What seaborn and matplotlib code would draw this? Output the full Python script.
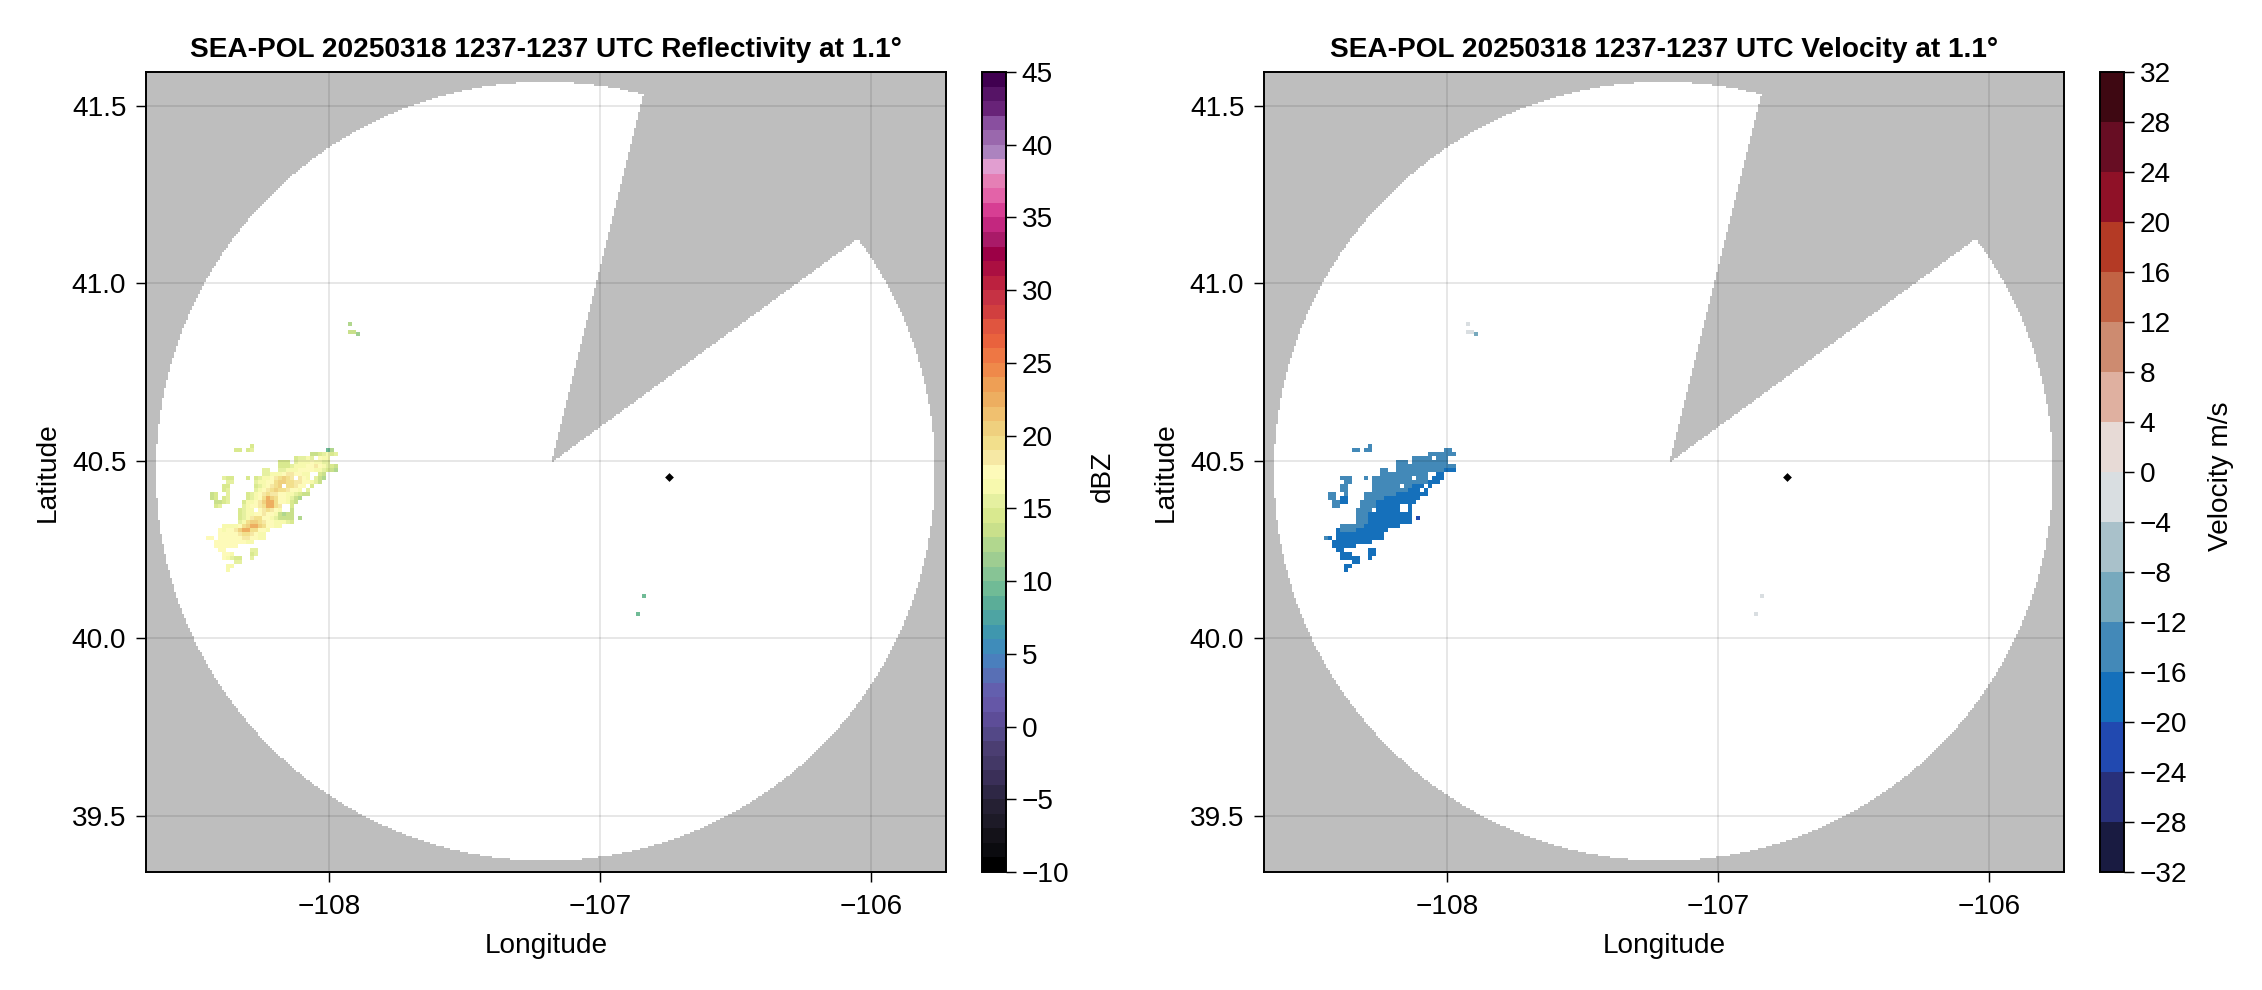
import numpy as np
import pandas as pd
import seaborn as sns
import matplotlib.pyplot as plt
from matplotlib.colors import ListedColormap

sns.set_theme(style='ticks')
plt.rcParams['font.family'] = ['Liberation Sans', 'DejaVu Sans']
plt.rcParams['axes.unicode_minus'] = True

# map extent and radar coverage
LON_LIM = (-108.675, -105.723)
LAT_LIM = (39.341, 41.595)
RANGE_CENTER = (-107.201, 40.47)
RANGE_RADII = (1.437, 1.097)
WEDGE_APEX = (-107.18, 40.494)
WEDGE_EDGE_A = (-106.84, 41.528)
WEDGE_EDGE_B = (-106.059, 41.119)
RADAR_SITE = (-106.744, 40.453)

LON_TICKS = [-108, -107, -106]
LAT_TICKS = [39.5, 40.0, 40.5, 41.0, 41.5]
DBZ_TICKS = list(range(-10, 50, 5))
VEL_TICKS = list(range(-32, 36, 4))

# 1 dBZ bands, -10 up to 44
DBZ_COLORS = [
    '#000000', '#0b0b0f', '#141219', '#1d1a27', '#252033', '#2e2745', '#3a2f58', '#433866',
    '#4b3e72', '#534887', '#5d4d98', '#6557a7', '#635fae', '#586fb5', '#4a7fbd', '#3f8cba',
    '#3f97ae', '#4ea4a3', '#5bad98', '#70bb96', '#87c495', '#9ecd91', '#b1d78e', '#c9e08b',
    '#d9e98f', '#e5f0a0', '#f7f9ae', '#fdfab9', '#f6e8a4', '#f2df8c', '#efd07e', '#f0c06f',
    '#edae60', '#ee9f55', '#ef894a', '#ee7744', '#e9623d', '#e0553f', '#d13f3f', '#c63244',
    '#bc213f', '#ab0f41', '#9c0046', '#a91a68', '#c3277f', '#d73e93', '#e363a8', '#e57fb5',
    '#e19ed0', '#ac83bf', '#9a68ad', '#894f9f', '#682378', '#561466', '#400050',
]
# 4 m/s bands, -32 up to 28
VEL_COLORS = [
    '#191b41', '#28307a', '#2149b0', '#1570bb', '#4389b8', '#77a9bd', '#a9c1ca', '#d9dee1',
    '#e7dad6', '#dfb0a0', '#cd8b70', '#c26344', '#b43a25', '#8f1127', '#670d23', '#3e0812',
]

# echo patch, top left corner and cell size in degrees
ECHO_ORIGIN = (-108.454, 40.547)
ECHO_CELL = (0.01476, 0.01127)

# one character per cell, base 36 digit = dBZ
DBZ_ROWS = [
    "...........e",
    ".......ee.ef..................9c",
    "..........................ddefgef",
    "......................effgf.hgg",
    "..................eee.fggghggff",
    "..................eeefggghhjhgfed",
    "..............ff..ffgggiihhggfedc",
    "..............ffgggijjihgg..ed",
    "....fee...e.efgghjklkj.jhg.fdc",
    ".....ff.....fgghikllkkjjihgfd",
    "....ee......efghjkl.kkjih.e",
    "....ef......fghjklkkjihg.f",
    ".de..f....efghjkjjihggfedd",
    ".de.ef....efghkmlkihgfdc",
    "..ddef...egghjlmmkihged",
    "..ef.....fghhjkmmkj..e",
    "........efgg.hjkjig..d",
    "........efgghijihgdcdd",
    "........efgjkkihgfdddd.c",
    "........fgkllkjihgggfe",
    "....gggghklmmlkihgg",
    "...hghhjlmmkkihg",
    "...hhhhijkkjhgg",
    "hi.hhhhiijjihgg",
    "..hhhhhhhhgg",
    "..hhhhhh",
    "...hh......ff",
    "....hhg....ef",
    "....hgfee..f",
    ".......ff",
    ".....gg",
    ".....g",
]
# a, b, c are the three velocity bands seen in the echo
VEL_CODES = {'a': -14, 'b': -18, 'c': -22}
VEL_ROWS = [
    "...........a",
    ".......aa.aa..................aa",
    "..........................aaaaaaa",
    "......................aaaaa.aaa",
    "..................aaa.aaaaaaaaa",
    "..................aaaaaaaaaaaaaaa",
    "..............aa..aaaaaaaaaaaabbb",
    "..............aaaaaaaaaaaa..bb",
    "....aaa...a.aaaaaaaaaa.aaa.bbb",
    ".....aa.....aaaaaaaaaaaaaabbb",
    "....aa......aaaaaaa.aabbb.b",
    "....aa......aaaaaaaaabbb.b",
    ".aa..a....aaaaaaaabbbbbbbb",
    ".aa.bb....aaaaabbbbbbbbb",
    "..aabb...aaaabbbbbbbbbb",
    "..aa.....aaaabbbbbb..b",
    "........aaaa.bbbbbb..b",
    "........aaabbbbbbbbbbb",
    "........aaabbbbbbbbbbb.c",
    "........aaabbbbbbbbbbb",
    "....aaaaaabbbbbbbbb",
    "...baaaabbbbbbbb",
    "...bbbbbbbbbbbb",
    "ab.bbbbbbbbbbbb",
    "..bbbbbbbbbb",
    "..bbbbbb",
    "...bb......bb",
    "....bbb....bb",
    "....bbbbb..b",
    ".......bb",
    ".....bb",
    ".....b",
]

# isolated specks away from the main echo
SPECK_LON = [-107.923, -107.926, -107.911, -107.900, -106.841, -106.863]
SPECK_LAT = [40.885, 40.868, 40.865, 40.857, 40.119, 40.068]
SPECK_DBZ = [12, 13, 13, 11, 9, 9]
SPECK_VEL = [-2, -2, -2, -10, -3, -3]

GRID_N = 400
W, H = 2262, 990
FONT_SIZE = 20.2


def lon_to_col(lon):
    return (lon - LON_LIM[0]) / (LON_LIM[1] - LON_LIM[0]) * GRID_N


def lat_to_row(lat):
    return (LAT_LIM[1] - lat) / (LAT_LIM[1] - LAT_LIM[0]) * GRID_N


def cross(p, q, lon, lat):
    return (q[0] - p[0]) * (lat - p[1]) - (q[1] - p[1]) * (lon - p[0])


def coverage_mask():
    # True where the radar does not see: outside range or in the blocked sector
    col_lon = np.linspace(*LON_LIM, GRID_N, endpoint=False) + (LON_LIM[1] - LON_LIM[0]) / GRID_N / 2
    row_lat = np.linspace(LAT_LIM[1], LAT_LIM[0], GRID_N, endpoint=False) - (LAT_LIM[1] - LAT_LIM[0]) / GRID_N / 2
    lon, lat = np.meshgrid(col_lon, row_lat)
    out = ((lon - RANGE_CENTER[0]) / RANGE_RADII[0]) ** 2 + ((lat - RANGE_CENTER[1]) / RANGE_RADII[1]) ** 2 > 1
    wedge = (cross(WEDGE_APEX, WEDGE_EDGE_A, lon, lat) <= 0) & (cross(WEDGE_APEX, WEDGE_EDGE_B, lon, lat) >= 0)
    return out | wedge


def echo_grid(rows, decode, speck_values):
    grid = np.full((GRID_N, GRID_N), np.nan)
    col0 = lon_to_col(ECHO_ORIGIN[0])
    row0 = lat_to_row(ECHO_ORIGIN[1])
    dc = ECHO_CELL[0] / (LON_LIM[1] - LON_LIM[0]) * GRID_N
    dr = ECHO_CELL[1] / (LAT_LIM[1] - LAT_LIM[0]) * GRID_N
    for r, line in enumerate(rows):
        for c, ch in enumerate(line):
            if ch == '.':
                continue
            i0, j0 = int(round(row0 + r * dr)), int(round(col0 + c * dc))
            i1, j1 = int(round(row0 + (r + 1) * dr)), int(round(col0 + (c + 1) * dc))
            grid[i0:i1, j0:j1] = decode(ch)
    for lon, lat, v in zip(SPECK_LON, SPECK_LAT, speck_values):
        i, j = int(lat_to_row(lat)), int(lon_to_col(lon))
        grid[i:i + 2, j:j + 2] = v
    return pd.DataFrame(grid)


def radar_panel(ax, cax, echo, colors, vmin, vmax, ticks, title, cbar_label, label_x):
    blocked = pd.DataFrame(coverage_mask().astype(float))
    sns.heatmap(blocked, mask=blocked == 0, cmap=ListedColormap(['#bebebe']), vmin=0, vmax=1, cbar=False,
                xticklabels=False, yticklabels=False, ax=ax)
    sns.heatmap(echo, cmap=ListedColormap(colors), vmin=vmin, vmax=vmax, cbar_ax=cax,
                cbar_kws={'ticks': ticks}, xticklabels=False, yticklabels=False, ax=ax)
    sns.scatterplot(x=[lon_to_col(RADAR_SITE[0])], y=[lat_to_row(RADAR_SITE[1])], marker='D', s=20,
                    color='black', linewidth=0, legend=False, ax=ax)

    ax.set_xlim(0, GRID_N)
    ax.set_ylim(GRID_N, 0)
    ax.set_xticks([lon_to_col(v) for v in LON_TICKS])
    ax.set_xticklabels([f'\u2212{abs(v)}' for v in LON_TICKS])
    ax.set_yticks([lat_to_row(v) for v in LAT_TICKS])
    ax.set_yticklabels([f'{v:.1f}' for v in LAT_TICKS], rotation=0)
    ax.set_axisbelow(False)
    ax.grid(True, color='black', alpha=0.12, linewidth=1.1)
    ax.tick_params(axis='x', length=7.2, width=1.05, labelsize=FONT_SIZE, pad=9, color='black', labelcolor='black')
    ax.tick_params(axis='y', length=7.2, width=1.05, labelsize=FONT_SIZE, pad=7, color='black', labelcolor='black')
    # scatterplot leaves the labels hidden because the ticks were empty at that point
    ax.set_xlabel('Longitude', fontsize=FONT_SIZE, color='black', visible=True, va='center')
    ax.set_ylabel('Latitude', fontsize=FONT_SIZE, color='black', visible=True, va='center')
    ax.xaxis.set_label_coords(0.5, -0.092)
    ax.yaxis.set_label_coords(-0.123, 0.5)
    ax.set_title(title, fontsize=FONT_SIZE, fontweight='bold', pad=11, color='black')
    for spine in ax.spines.values():
        spine.set_visible(True)
        spine.set_linewidth(1.4)
        spine.set_color('black')

    cbar = ax.collections[-2].colorbar if ax.collections[-2].colorbar else ax.collections[-1].colorbar
    cbar.outline.set_visible(True)
    cbar.outline.set_linewidth(1.4)
    cbar.outline.set_edgecolor('black')
    cax.tick_params(length=7.2, width=1.05, labelsize=FONT_SIZE, pad=4, color='black', labelcolor='black')
    ax.figure.text(label_x / W, 1 - 476 / H, cbar_label, rotation=90, ha='center', va='center',
                   fontsize=FONT_SIZE, color='black')


def px_axes(fig, x0, x1, y0, y1):
    return fig.add_axes([x0 / W, 1 - y1 / H, (x1 - x0) / W, (y1 - y0) / H])


dbz_echo = echo_grid(DBZ_ROWS, lambda ch: int(ch, 36), SPECK_DBZ)
vel_echo = echo_grid(VEL_ROWS, lambda ch: VEL_CODES[ch], SPECK_VEL)

fig = plt.figure(figsize=(W / 100, H / 100), dpi=100, facecolor='white')

radar_panel(px_axes(fig, 146, 946, 72, 872), px_axes(fig, 982, 1006, 72, 872), dbz_echo, DBZ_COLORS, -10, 45,
            DBZ_TICKS, 'SEA-POL 20250318 1237-1237 UTC Reflectivity at 1.1°', 'dBZ', 1103)
radar_panel(px_axes(fig, 1264, 2064, 72, 872), px_axes(fig, 2100, 2124, 72, 872), vel_echo, VEL_COLORS, -32, 32,
            VEL_TICKS, 'SEA-POL 20250318 1237-1237 UTC Velocity at 1.1°', 'Velocity m/s', 2221)

fig.savefig('out.png', dpi=100)
